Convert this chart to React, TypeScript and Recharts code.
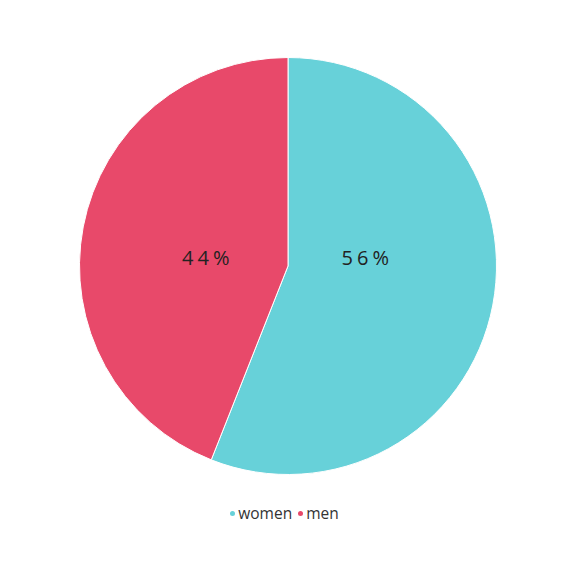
import { PieChart, Pie, Cell } from "recharts";

const labels = ["women", "men"];
const shares = [56, 44];
const colors = ["#67D1D9", "#E8496A"];

const data = labels.map((name, i) => ({ name, value: shares[i] }));

const RADIAN = Math.PI / 180;

function SliceLabel(props: any) {
  const { cx, cy, midAngle, outerRadius, value } = props;
  const side = Math.cos(-midAngle * RADIAN) >= 0 ? 1 : -1;
  const x = cx + outerRadius * (side > 0 ? 0.38 : -0.385);
  return (
    <text
      x={x}
      y={cy - 9}
      fill="#222"
      fontSize={20}
      letterSpacing={4}
      textAnchor="middle"
      dominantBaseline="central"
      fontFamily="'Open Sans', sans-serif"
    >
      {`${value}%`}
    </text>
  );
}

export default function App() {
  return (
    <div style={{ width: 553, height: 562, fontFamily: "'Open Sans', sans-serif", position: "relative" }}>
      <PieChart width={553} height={562} margin={{ top: 0, right: 0, bottom: 0, left: 0 }}>
        <Pie
          data={data}
          dataKey="value"
          nameKey="name"
          cx={280}
          cy={258}
          outerRadius={208.5}
          startAngle={90}
          endAngle={-270}
          stroke="#fff"
          strokeWidth={1}
          label={SliceLabel}
          labelLine={false}
          isAnimationActive={false}
        >
          {data.map((d, i) => (
            <Cell key={d.name} fill={colors[i]} />
          ))}
        </Pie>
      </PieChart>
      <div
        style={{
          position: "absolute",
          top: 494,
          left: 0,
          width: 553,
          display: "flex",
          justifyContent: "center",
          alignItems: "center",
          gap: 6,
          fontSize: 15.5,
          color: "#333",
        }}
      >
        {labels.map((name, i) => (
          <span key={name} style={{ display: "flex", alignItems: "center", gap: 3 }}>
            <span
              style={{ width: 5, height: 5, borderRadius: "50%", background: colors[i], display: "inline-block" }}
            />
            {name}
          </span>
        ))}
      </div>
    </div>
  );
}
